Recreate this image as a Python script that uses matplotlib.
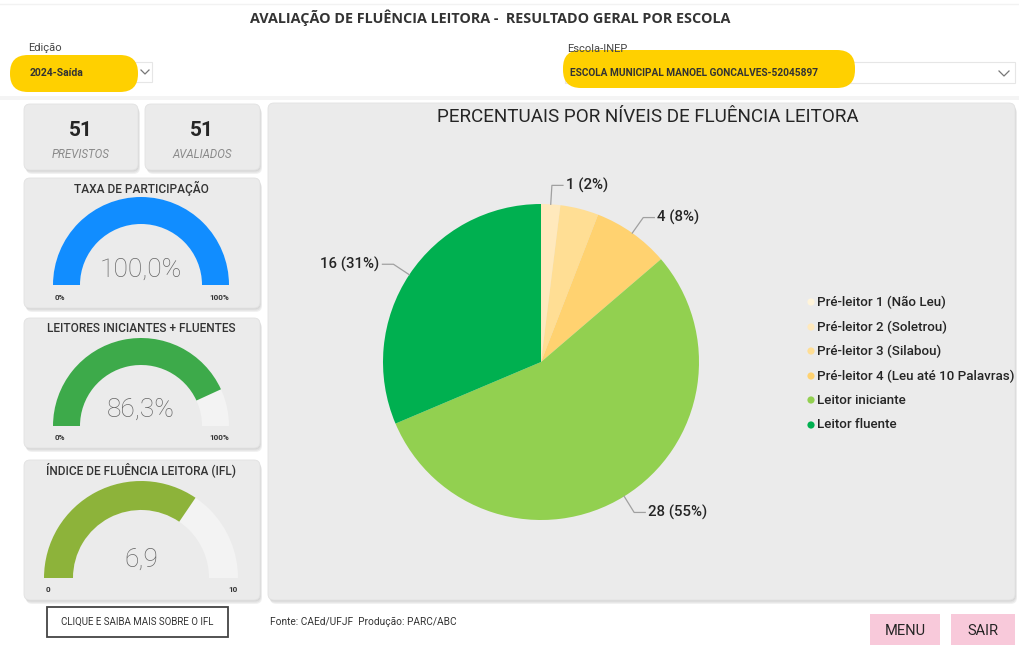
import matplotlib
matplotlib.use("Agg")
import matplotlib.pyplot as plt
from matplotlib.patches import FancyBboxPatch, Wedge, Rectangle, Circle
import numpy as np

# ---------------- data ----------------
niveis = ["Pré-leitor 1 (Não Leu)", "Pré-leitor 2 (Soletrou)", "Pré-leitor 3 (Silabou)",
          "Pré-leitor 4 (Leu até 10 Palavras)", "Leitor iniciante", "Leitor fluente"]
quantidades = [0, 1, 2, 4, 28, 16]
cores_niveis = ["#FFF4DA", "#FFE9BC", "#FFDE94", "#FFD270", "#92D050", "#00B050"]
rotulos_visiveis = [False, True, False, True, True, True]

previstos = 51
avaliados = 51
gauge_titulos = ["TAXA DE PARTICIPAÇÃO", "LEITORES INICIANTES + FLUENTES", "ÍNDICE DE FLUÊNCIA LEITORA (IFL)"]
gauge_valores = [100.0, 86.3, 6.9]
gauge_maximos = [100, 100, 10]
gauge_textos = ["100,0%", "86,3%", "6,9"]
gauge_min_lbl = ["0%", "0%", "0"]
gauge_max_lbl = ["100%", "100%", "10"]
gauge_cores = ["#118DFF", "#3DAA4A", "#8DB33A"]

edicao = "2024-Saída"
escola = "ESCOLA MUNICIPAL MANOEL GONCALVES-52045897"

W, H = 1019, 645
FONT = "Roboto"
fig = plt.figure(figsize=(W / 100, H / 100), dpi=100)
fig.patch.set_facecolor("white")
bg = fig.add_axes([0, 0, 1, 1])
bg.set_xlim(0, W)
bg.set_ylim(0, H)
bg.axis("off")


def Y(y):
    return H - y


def card(x0, y0, x1, y1, fc="#EBEBEB", r=6, z=1):
    # shadow
    for i, a in enumerate([0.05, 0.05, 0.06]):
        d = 1.5 + i * 1.2
        bg.add_patch(FancyBboxPatch((x0 + d * 0.5, Y(y1) - d), x1 - x0, y1 - y0,
                                    boxstyle=f"round,pad=0,rounding_size={r}",
                                    fc="black", ec="none", alpha=a, zorder=z - 0.5))
    bg.add_patch(FancyBboxPatch((x0, Y(y1)), x1 - x0, y1 - y0,
                                boxstyle=f"round,pad=0,rounding_size={r}",
                                fc=fc, ec="#E2E2E2", lw=0.6, zorder=z))


# ---------------- header ----------------
bg.plot([0, W], [Y(4), Y(4)], color="#F2F2F2", lw=1)
bg.text(490, Y(18), "AVALIAÇÃO DE FLUÊNCIA LEITORA -  RESULTADO GERAL POR ESCOLA",
        ha="center", va="center", fontsize=10.4, fontweight="bold", color="#333333", family="Open Sans")
bg.add_patch(Rectangle((0, Y(100)), W, 4, fc="#F4F4F4", ec="none"))

# Edição slicer
bg.text(28, Y(48), "Edição", ha="left", va="center", fontsize=8, color="#444444", family=FONT)
bg.add_patch(Rectangle((25, Y(82)), 127, 20, fc="white", ec="#E6E6E6", lw=0.8, zorder=1))
bg.add_patch(FancyBboxPatch((10, Y(92)), 128, 37, boxstyle="round,pad=0,rounding_size=18",
                            fc="#FFD000", ec="none", zorder=2))
bg.text(30, Y(73), edicao, ha="left", va="center", fontsize=7.5, fontweight="bold", color="#333333",
        family=FONT, zorder=3)
bg.plot([141, 145, 149], [Y(70), Y(74), Y(70)], color="#777777", lw=0.9, zorder=3)

# Escola slicer
bg.text(567, Y(49), "Escola-INEP", ha="left", va="center", fontsize=8, color="#444444", family=FONT)
bg.add_patch(Rectangle((565, Y(83)), 450, 21, fc="white", ec="#E6E6E6", lw=0.8, zorder=1))
bg.add_patch(FancyBboxPatch((563, Y(88)), 292, 38, boxstyle="round,pad=0,rounding_size=18",
                            fc="#FFD000", ec="none", zorder=2))
bg.text(570, Y(73), escola, ha="left", va="center", fontsize=7.3, fontweight="bold", color="#333333",
        family=FONT, zorder=3)
bg.plot([999, 1004, 1009], [Y(71), Y(76), Y(71)], color="#777777", lw=0.9, zorder=3)

# ---------------- KPI cards ----------------
card(24, 104, 138, 170)
card(145, 104, 260, 170)
for cx, val, lbl in [(81, previstos, "PREVISTOS"), (202, avaliados, "AVALIADOS")]:
    bg.text(cx, Y(131), str(val), ha="center", va="center", fontsize=15, fontweight="bold",
            color="#252525", family=FONT, zorder=3)
    bg.text(cx, Y(154), lbl, ha="center", va="center", fontsize=8.3, style="italic",
            color="#8A8A8A", family=FONT, zorder=3)

# ---------------- gauges ----------------
gauge_cards = [(178, 308), (318, 448), (460, 600)]
gauge_geo = [(141, 285, 88, 61, 297, 270), (141, 426, 88, 61, 437, 410), (141, 578, 97, 68, 590, 560)]
for i in range(3):
    y0, y1 = gauge_cards[i]
    card(24, y0, 260, y1)
    bg.text(141, Y(y0 + 10), gauge_titulos[i], ha="center", va="center", fontsize=8.6,
            fontweight="medium", color="#333333", family=FONT, zorder=3)
    cx, cy, ro, ri, ylbl, yval = gauge_geo[i]
    frac = gauge_valores[i] / gauge_maximos[i]
    ang = 180 - 180 * frac
    bg.add_patch(Wedge((cx, Y(cy)), ro, 0, 180, width=ro - ri, fc="#F3F3F3", ec="none", zorder=2))
    bg.add_patch(Wedge((cx, Y(cy)), ro, ang, 180, width=ro - ri, fc=gauge_cores[i], ec="none", zorder=3))
    bg.text(cx, Y(yval), gauge_textos[i], ha="center", va="center", fontsize=19,
            fontweight="light", color="#666666", family=FONT, zorder=4)
    bg.text(cx - ro + 2, Y(ylbl), gauge_min_lbl[i], ha="left", va="center", fontsize=5.8,
            fontweight="bold", color="#333333", family=FONT, zorder=4)
    bg.text(cx + ro, Y(ylbl), gauge_max_lbl[i], ha="right", va="center", fontsize=5.8,
            fontweight="bold", color="#333333", family=FONT, zorder=4)

# ---------------- main panel ----------------
card(268, 103, 1015, 600)
bg.text(648, Y(117), "PERCENTUAIS POR NÍVEIS DE FLUÊNCIA LEITORA", ha="center", va="center",
        fontsize=13.6, color="#252525", family=FONT, zorder=3)

# legend
leg_y = [302, 327, 351, 376, 400, 425]
for i, (nm, col) in enumerate(zip(niveis, cores_niveis)):
    bg.add_patch(Circle((811, Y(leg_y[i])), 3.6, fc=col, ec="none", zorder=3))
    bg.text(817, Y(leg_y[i]), nm, ha="left", va="center", fontsize=9.6, fontweight="medium",
            color="#252525", family=FONT, zorder=3)

# pie
pcx, pcy, pr, k = 541, 362, 158, 1.35
side = 2 * pr * k
pax = fig.add_axes([(pcx - side / 2) / W, (H - pcy - side / 2) / H, side / W, side / H])
wedges, _ = pax.pie(quantidades, colors=cores_niveis, startangle=90, counterclock=False, radius=1,
                    wedgeprops=dict(linewidth=0))
pax.set_xlim(-k, k)
pax.set_ylim(-k, k)
pax.set_aspect("equal")
pax.axis("off")
total = sum(quantidades)
for w, q, show in zip(wedges, quantidades, rotulos_visiveis):
    if not show:
        continue
    mid = np.deg2rad((w.theta1 + w.theta2) / 2)
    c, s = np.cos(mid), np.sin(mid)
    p0 = (1.0 * c, 1.0 * s)
    p1 = (1.12 * c, 1.12 * s)
    sgn = 1 if c >= 0 else -1
    p2 = (p1[0] + sgn * 0.07, p1[1])
    pax.plot([p0[0], p1[0], p2[0]], [p0[1], p1[1], p2[1]], color="#A0A0A0", lw=0.9)
    pax.text(p2[0] + sgn * 0.02, p2[1], f"{q} ({q / total * 100:.0f}%)", ha="left" if sgn > 0 else "right",
             va="center", fontsize=10.8, fontweight="medium", color="#252525", family=FONT)

# ---------------- footer ----------------
bg.add_patch(Rectangle((47, Y(637)), 181, 30, fc="white", ec="#444444", lw=1.3))
bg.text(137.5, Y(622), "CLIQUE E SAIBA MAIS SOBRE O IFL", ha="center", va="center", fontsize=7,
        color="#333333", family=FONT)
bg.text(270, Y(622), "Fonte: CAEd/UFJF  Produção: PARC/ABC", ha="left", va="center", fontsize=7.3,
        color="#333333", family=FONT)
for x0, x1, t in [(870, 940, "MENU"), (951, 1015, "SAIR")]:
    bg.add_patch(Rectangle((x0, 0), x1 - x0, Y(614), fc="#F8C9DA", ec="none"))
    bg.text((x0 + x1) / 2, Y(631), t, ha="center", va="center", fontsize=10.5, color="#252525", family=FONT)

fig.savefig("out.png", dpi=100, facecolor="white")
